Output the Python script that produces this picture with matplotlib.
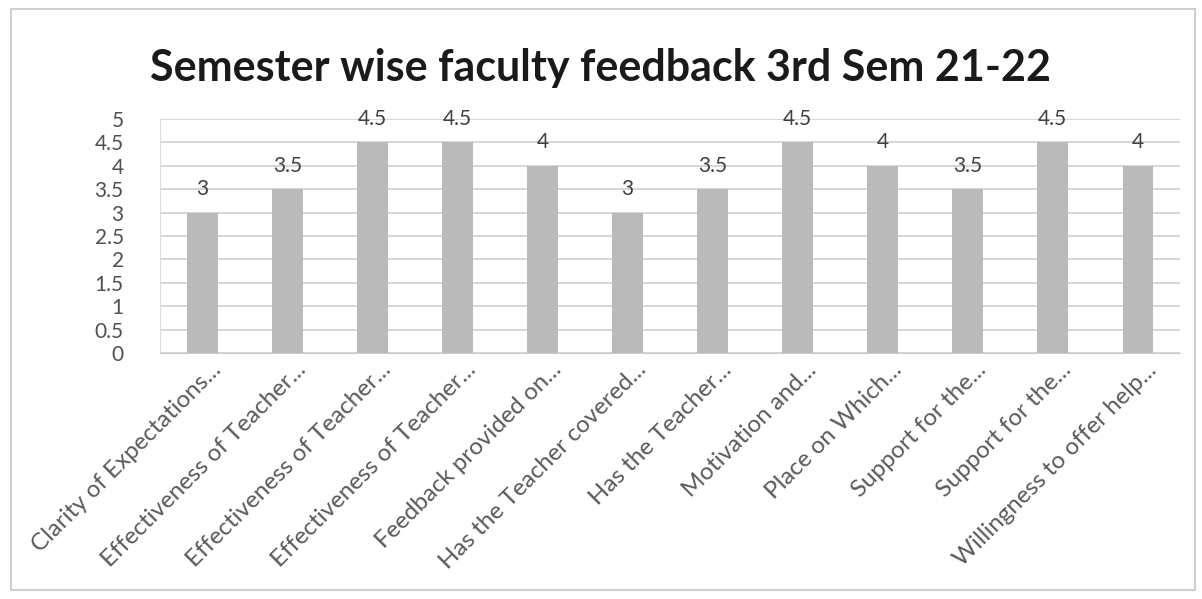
import matplotlib.pyplot as plt
import matplotlib.transforms as mtrans
from matplotlib.patches import Rectangle

categories = [
    'Clarity of Expectations...',
    'Effectiveness of Teacher...',
    'Effectiveness of Teacher...',
    'Effectiveness of Teacher...',
    'Feedback provided on...',
    'Has the Teacher covered...',
    'Has the Teacher...',
    'Motivation and...',
    'Place on Which...',
    'Support for the...',
    'Support for the...',
    'Willingness to offer help...',
]
scores = [3, 3.5, 4.5, 4.5, 4, 3, 3.5, 4.5, 4, 3.5, 4.5, 4]
y_ticks = [0, 0.5, 1, 1.5, 2, 2.5, 3, 3.5, 4, 4.5, 5]
y_tick_labels = ['0', '0.5', '1', '1.5', '2', '2.5', '3', '3.5', '4', '4.5', '5']

plt.rcParams['font.family'] = ['Lato', 'DejaVu Sans']

fig = plt.figure(figsize=(12.02, 5.99), dpi=100)
fig.patch.set_facecolor('white')

# outer chart frame
fig.patches.append(Rectangle((0.009, 0.015), 0.985, 0.97, transform=fig.transFigure,
                             fill=False, edgecolor='#cfcfcf', linewidth=1.5))

ax = fig.add_axes([0.133, 0.41, 0.849, 0.392])
x = range(len(categories))
bars = ax.bar(x, scores, width=0.36, color='#bababa', zorder=3)

ax.set_ylim(0, 5)
ax.set_xlim(-0.5, len(categories) - 0.5)
ax.set_yticks(y_ticks)
ax.set_yticklabels(y_tick_labels, fontsize=15, color='#505050')
ax.tick_params(axis='y', length=0, pad=26)
ax.tick_params(axis='x', length=0, pad=4)
ax.set_xticks(list(x))
ax.set_xticklabels(categories, rotation=45, ha='right', rotation_mode='anchor',
                   fontsize=17.4, color='#5a5a5a')
# nudge the rotated labels a bit right, as in the original
offset = mtrans.ScaledTranslation(8 / 100, 0, fig.dpi_scale_trans)
for lbl in ax.get_xticklabels():
    lbl.set_transform(lbl.get_transform() + offset)

ax.grid(axis='y', color='#cfcfcf', linewidth=1.2, zorder=0)
for s in ax.spines.values():
    s.set_visible(False)
ax.spines['bottom'].set_visible(True)
ax.spines['bottom'].set_color('#cccccc')
ax.spines['left'].set_visible(True)
ax.spines['left'].set_color('#dddddd')

for bar, val in zip(bars, scores):
    ax.text(bar.get_x() + bar.get_width() / 2, val + 0.5, '{:g}'.format(val),
            ha='center', va='center', fontsize=15, color='#404040')

fig.text(0.5, 0.886, 'Semester wise faculty feedback 3rd Sem 21-22',
         ha='center', va='center', fontsize=31, fontweight='bold', color='#1a1a1a')

plt.savefig('out.png', dpi=100)
